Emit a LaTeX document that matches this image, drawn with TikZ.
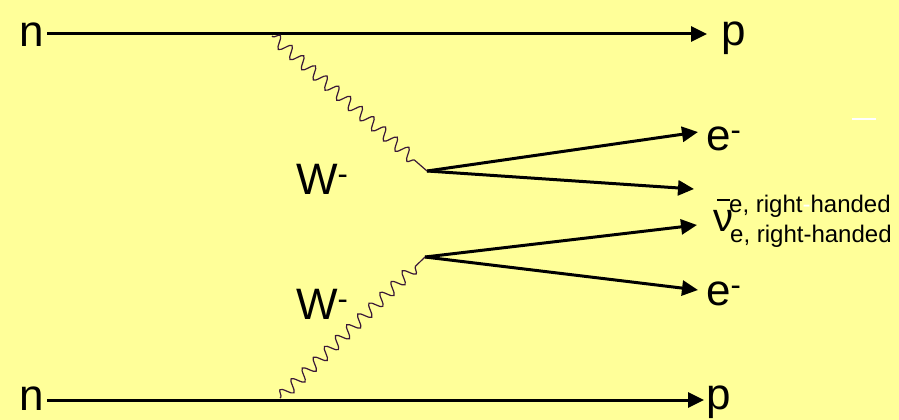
\documentclass[tikz,border=0pt]{standalone}
\usepackage{fontspec}
\setmainfont{Liberation Sans}
\usetikzlibrary{arrows.meta,decorations.pathmorphing}
\definecolor{bg}{HTML}{FFFF99}
\definecolor{wav}{HTML}{3A1838}
\begin{document}
\begin{tikzpicture}[x=1pt,y=-1pt,
  big/.style={inner sep=0pt, anchor=base west, font=\fontsize{44}{44}\selectfont},
  wlbl/.style={inner sep=0pt, anchor=base west, font=\fontsize{44}{44}\selectfont},
  small/.style={inner sep=0pt, anchor=base west, font=\fontsize{24}{24}\selectfont},
  fermion/.style={line width=3pt, -{Triangle[length=16pt,width=15pt]}},
  boson/.style={draw=wav, line width=1.2pt, decorate,
    decoration={snake, segment length=15.5pt, amplitude=6pt, pre length=1pt, post length=9pt}},
]
\fill[bg] (0,0) rectangle (899,420);
\useasboundingbox (0,0) rectangle (899,420);

% labels
\node[big] (n1) at (19,47) {n};
\node[big] (p1) at (721,46) {p};
\node[big] (n2) at (19,410) {n};
\node[big] (p2) at (706,409) {p};
\node[big] (e1) at (706,150) {e\textsuperscript{-}};
\node[big] (e2) at (706,305) {e\textsuperscript{-}};
\node[wlbl] (w1) at (296,194) {W\textsuperscript{-}};
\node[wlbl] (w2) at (296,319) {W\textsuperscript{-}};
\node[inner sep=0pt, anchor=base west, font=\fontsize{40}{40}\selectfont] (nu) at (713,231) {ν};
\node[small] (s1) at (729,212) {e, right\textcolor{white}{-}handed};
\node[small] (s2) at (730,242) {e, right-handed};
\coordinate (barL) at (717,200);
\coordinate (barR) at (730,200);
\draw[line width=1.6pt] (barL) -- (barR);
\coordinate (wdL) at (852,119);
\coordinate (wdR) at (876,119);
\draw[white, line width=2.5pt] (wdL) -- (wdR);

% fermion lines
\coordinate (tL) at (47,34);
\coordinate (tR) at (707,34);
\coordinate (bL) at (47,400);
\coordinate (bR) at (704,400);
\draw[fermion] (tL) -- (tR);
\draw[fermion] (bL) -- (bR);

\coordinate (vA) at (427,171);
\coordinate (eA) at (698,132);
\coordinate (nuA) at (694,189);
\coordinate (vB) at (425,257);
\coordinate (nuB) at (697,225);
\coordinate (eB) at (698,290);
\draw[fermion] (vA) -- (eA);
\draw[fermion] (vA) -- (nuA);
\draw[fermion] (vB) -- (nuB);
\draw[fermion] (vB) -- (eB);

% bosons
\coordinate (wA) at (272,36);
\coordinate (wB) at (280,398);
\draw[boson] (wA) -- (vA);
\draw[boson] (wB) -- (vB);
\end{tikzpicture}
\end{document}
